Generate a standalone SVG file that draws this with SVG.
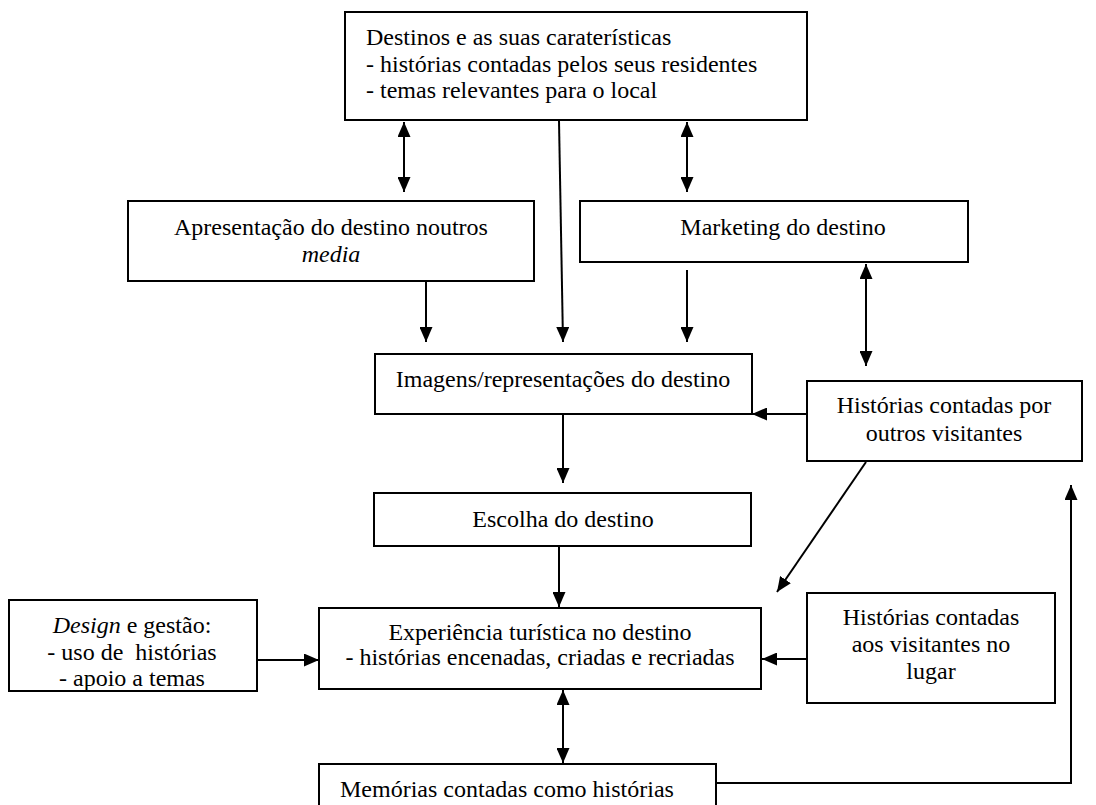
<svg xmlns="http://www.w3.org/2000/svg" width="1096" height="805" viewBox="0 0 1096 805">
<style>
.box{fill:#fff;stroke:#000;stroke-width:2}
.t{font-family:"Liberation Serif","Times New Roman",serif;font-size:24px;fill:#000}
.c{text-anchor:middle}
.con{fill:none;stroke:#000;stroke-width:2}
.a{marker-end:url(#ah)}
.d{marker-start:url(#ah);marker-end:url(#ah)}
</style>
<defs>
<marker id="ah" markerUnits="userSpaceOnUse" markerWidth="15" markerHeight="13" refX="15" refY="6.5" orient="auto-start-reverse">
<path d="M0,0 L15,6.5 L0,13 z" fill="#000"/>
</marker>
</defs>
<rect width="1096" height="805" fill="#fff"/>
<g id="connectors">
<line class="con d" x1="404" y1="122" x2="404" y2="192"/>
<line class="con d" x1="687" y1="122" x2="687" y2="192"/>
<line class="con a" x1="559" y1="121" x2="563" y2="342"/>
<line class="con a" x1="426" y1="281" x2="426" y2="342"/>
<line class="con a" x1="687" y1="270" x2="687" y2="342"/>
<line class="con d" x1="866" y1="264" x2="866" y2="366"/>
<line class="con a" x1="807" y1="414" x2="752" y2="414"/>
<line class="con a" x1="563" y1="415" x2="563" y2="483"/>
<line class="con a" x1="559" y1="547" x2="559" y2="607"/>
<line class="con a" x1="866" y1="462" x2="777" y2="592"/>
<line class="con a" x1="257" y1="660" x2="319" y2="660"/>
<line class="con a" x1="807" y1="659" x2="762" y2="659"/>
<line class="con d" x1="563" y1="690" x2="563" y2="763"/>
<path class="con a" d="M716,783 H1071 V485"/>
</g>
<g id="destinos">
<rect class="box" x="345" y="12" width="462" height="108"/>
<text class="t" x="366" y="45">Destinos e as suas caraterísticas</text>
<text class="t" x="366" y="72">- histórias contadas pelos seus residentes</text>
<text class="t" x="366" y="98">- temas relevantes para o local</text>
</g>
<g id="apresentacao">
<rect class="box" x="128" y="201" width="406" height="80"/>
<text class="t c" x="331" y="235">Apresentação do destino noutros</text>
<text class="t c" x="331" y="262" font-style="italic">media</text>
</g>
<g id="marketing">
<rect class="box" x="580" y="201" width="388" height="61"/>
<text class="t c" x="783" y="235">Marketing do destino</text>
</g>
<g id="imagens">
<rect class="box" x="375" y="354" width="377" height="60"/>
<text class="t c" x="563" y="387">Imagens/representações do destino</text>
</g>
<g id="historias-outros">
<rect class="box" x="807" y="381" width="275" height="80"/>
<text class="t c" x="944" y="413">Histórias contadas por</text>
<text class="t c" x="944" y="441">outros visitantes</text>
</g>
<g id="escolha">
<rect class="box" x="374" y="493" width="377" height="53"/>
<text class="t c" x="563" y="527">Escolha do destino</text>
</g>
<g id="design">
<rect class="box" x="9" y="600" width="248" height="91"/>
<text class="t c" x="132" y="633"><tspan font-style="italic">Design</tspan> e gestão:</text>
<text class="t c" x="132" y="660" xml:space="preserve">- uso de  histórias</text>
<text class="t c" x="132" y="686">- apoio a temas</text>
</g>
<g id="experiencia">
<rect class="box" x="319" y="608" width="442" height="81"/>
<text class="t c" x="540" y="640">Experiência turística no destino</text>
<text class="t c" x="540" y="665">- histórias encenadas, criadas e recriadas</text>
</g>
<g id="historias-aos">
<rect class="box" x="807" y="593" width="248" height="110"/>
<text class="t c" x="931" y="625">Histórias contadas</text>
<text class="t c" x="931" y="652">aos visitantes no</text>
<text class="t c" x="931" y="679">lugar</text>
</g>
<g id="memorias">
<rect class="box" x="319" y="764" width="397" height="60"/>
<text class="t" x="340" y="797">Memórias contadas como histórias</text>
</g>
</svg>
